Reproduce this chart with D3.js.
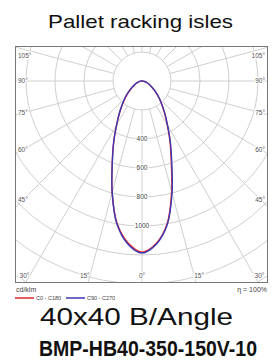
<!DOCTYPE html>
<html>
<head>
<meta charset="utf-8">
<script src="https://cdn.jsdelivr.net/npm/d3@7"></script>
<style>
  body { margin: 0; background: #fff; }
  text { font-family: "Liberation Sans", Arial, sans-serif; }
</style>
</head>
<body>
<div id="chart"></div>
<script>
// Polar light distribution (cd/klm), angles measured from nadir
var angles = [0, 5, 10, 15, 20, 25, 30, 35, 40, 45, 50, 55, 60, 65, 70, 75, 80, 85, 90];
var c0   = [1180, 1125, 1000, 790, 590, 455, 348, 272, 213, 168, 129, 96, 72, 54, 40, 29, 19, 9, 0];
var c180 = [1180, 1120, 995, 795, 600, 462, 350, 270, 208, 162, 122, 90, 66, 50, 37, 27, 18, 9, 0];
var c90  = [1186, 1130, 1005, 800, 600, 462, 352, 275, 215, 170, 130, 97, 72, 54, 40, 29, 19, 9, 0];
var c270 = [1186, 1128, 1000, 795, 598, 460, 350, 274, 214, 168, 128, 95, 70, 53, 39, 28, 18, 9, 0];

var ringValues = [200, 400, 600, 800, 1000, 1200, 1400, 1600, 1800];
var ringLabels = [400, 600, 800, 1000];
var angleLabels = [0, 15, 30, 45, 60, 75, 90, 105];
var spokeAngles = d3.range(0, 360, 15);

var width = 280;
var height = 361;

// frame & centre
var fx = 15, fy = 46, fw = 253, fh = 237;
var cx = 142, cy = 81;

var svg = d3.select("#chart")
  .append("svg")
  .attr("width", width)
  .attr("height", height);

var rScale = d3.scaleLinear().domain([0, 200]).range([0, 29]);

// Title
svg.append("text")
  .attr("x", 48)
  .attr("y", 28)
  .attr("font-size", 19)
  .attr("fill", "#111")
  .attr("textLength", 185)
  .attr("lengthAdjust", "spacingAndGlyphs")
  .text("Pallet racking isles");

svg.append("defs").append("clipPath")
  .attr("id", "frameClip")
  .append("rect")
  .attr("x", fx).attr("y", fy)
  .attr("width", fw).attr("height", fh);

var grid = svg.append("g").attr("clip-path", "url(#frameClip)");

// spokes start at the first ring
grid.selectAll("line.spoke")
  .data(spokeAngles)
  .enter()
  .append("line")
  .attr("class", "spoke")
  .attr("x1", function(a) { return cx + rScale(200) * Math.sin(a * Math.PI / 180); })
  .attr("y1", function(a) { return cy + rScale(200) * Math.cos(a * Math.PI / 180); })
  .attr("x2", function(a) { return cx + 400 * Math.sin(a * Math.PI / 180); })
  .attr("y2", function(a) { return cy + 400 * Math.cos(a * Math.PI / 180); })
  .attr("stroke", "#cfcfcf")
  .attr("stroke-width", 1);

grid.selectAll("circle.ring")
  .data(ringValues)
  .enter()
  .append("circle")
  .attr("class", "ring")
  .attr("cx", cx)
  .attr("cy", cy)
  .attr("r", function(d) { return rScale(d); })
  .attr("fill", "none")
  .attr("stroke", "#cfcfcf")
  .attr("stroke-width", 1);

// ring labels along the 0 deg spoke
svg.selectAll("text.ringLabel")
  .data(ringLabels)
  .enter()
  .append("text")
  .attr("class", "ringLabel")
  .attr("x", cx)
  .attr("y", function(d) { return cy + rScale(d); })
  .attr("dy", "0.35em")
  .attr("text-anchor", "middle")
  .attr("font-size", 6.5)
  .attr("fill", "#444")
  .attr("stroke", "#fff")
  .attr("stroke-width", 2.5)
  .attr("paint-order", "stroke")
  .text(function(d) { return d; });

// angle labels where the spokes meet the frame
function labelPos(a, side) {
  var rad = a * Math.PI / 180;
  var sx = Math.sin(rad), cyDir = Math.cos(rad);
  var halfW = fw / 2 - 8;
  var bot = fy + fh - 7;
  var tSide = sx > 0 ? halfW / sx : Infinity;
  var tBot = cyDir > 0 ? (bot - cy) / cyDir : Infinity;
  if (tSide < tBot) {
    var y = Math.max(cy + tSide * cyDir, fy + 10);
    return side < 0
      ? { x: fx + 3, y: y, anchor: "start" }
      : { x: fx + fw - 3, y: y, anchor: "end" };
  }
  var x = cx + side * tBot * sx;
  return { x: x, y: bot, anchor: a === 0 ? "middle" : (side < 0 ? "end" : "start") };
}

var labelData = [];
angleLabels.forEach(function(a) {
  labelData.push({ a: a, p: labelPos(a, -1) });
  if (a !== 0) labelData.push({ a: a, p: labelPos(a, 1) });
});

svg.selectAll("text.angleLabel")
  .data(labelData)
  .enter()
  .append("text")
  .attr("class", "angleLabel")
  .attr("x", function(d) { return d.p.x; })
  .attr("y", function(d) { return d.p.y; })
  .attr("dy", "0.35em")
  .attr("text-anchor", function(d) { return d.p.anchor; })
  .attr("font-size", 6.5)
  .attr("fill", "#555")
  .attr("stroke", "#fff")
  .attr("stroke-width", 2.5)
  .attr("paint-order", "stroke")
  .text(function(d) { return d.a + "°"; });

// frame
svg.append("rect")
  .attr("x", fx + 0.5).attr("y", fy + 0.5)
  .attr("width", fw - 1).attr("height", fh - 1)
  .attr("fill", "none")
  .attr("stroke", "#777")
  .attr("stroke-width", 1);

// curves: left half (negative angle) then right half
function curvePoints(left, right) {
  var pts = [];
  for (var i = angles.length - 1; i >= 0; i--) pts.push([-angles[i], left[i]]);
  for (var j = 1; j < angles.length; j++) pts.push([angles[j], right[j]]);
  return pts;
}

var radial = d3.lineRadial()
  .angle(function(d) { return Math.PI - d[0] * Math.PI / 180; })
  .radius(function(d) { return rScale(d[1]); })
  .curve(d3.curveCatmullRom);

var plot = svg.append("g").attr("transform", "translate(" + cx + "," + cy + ")");

plot.append("path")
  .datum(curvePoints(c180, c0))
  .attr("d", radial)
  .attr("fill", "none")
  .attr("stroke", "#e8202e")
  .attr("stroke-width", 1.4);

plot.append("path")
  .datum(curvePoints(c270, c90))
  .attr("d", radial)
  .attr("fill", "none")
  .attr("stroke", "#3a3ab4")
  .attr("stroke-width", 1.4);

// legend
svg.append("text")
  .attr("x", 16).attr("y", 292)
  .attr("font-size", 7)
  .attr("fill", "#444")
  .text("cd/klm");

svg.append("text")
  .attr("x", 267).attr("y", 292)
  .attr("text-anchor", "end")
  .attr("font-size", 7)
  .attr("fill", "#444")
  .text("η = 100%");

var legendItems = [
  { name: "C0 - C180", color: "#e8202e", x: 15 },
  { name: "C90 - C270", color: "#3a3ab4", x: 66 }
];

var leg = svg.selectAll("g.legend")
  .data(legendItems)
  .enter()
  .append("g")
  .attr("class", "legend")
  .attr("transform", function(d) { return "translate(" + d.x + ",298)"; });

leg.append("line")
  .attr("x1", 0).attr("x2", 19)
  .attr("y1", 0).attr("y2", 0)
  .attr("stroke", function(d) { return d.color; })
  .attr("stroke-width", 1.5);

leg.append("text")
  .attr("x", 21).attr("y", 2)
  .attr("font-size", 5.5)
  .attr("fill", "#444")
  .text(function(d) { return d.name; });

// captions
svg.append("text")
  .attr("x", 40)
  .attr("y", 325)
  .attr("font-size", 24)
  .attr("fill", "#111")
  .attr("textLength", 193)
  .attr("lengthAdjust", "spacingAndGlyphs")
  .text("40x40 B/Angle");

svg.append("text")
  .attr("x", 39)
  .attr("y", 356)
  .attr("font-size", 21.5)
  .attr("font-weight", "bold")
  .attr("fill", "#111")
  .attr("textLength", 218)
  .attr("lengthAdjust", "spacingAndGlyphs")
  .text("BMP-HB40-350-150V-10");
</script>
</body>
</html>
